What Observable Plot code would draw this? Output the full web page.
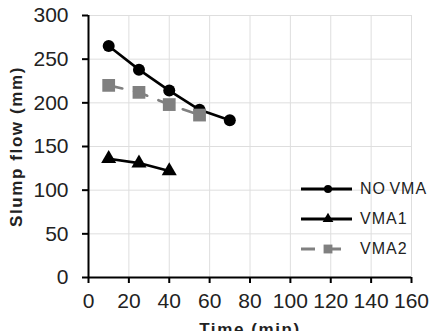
<!DOCTYPE html>
<html>
<head>
<meta charset="utf-8">
<script src="https://cdn.jsdelivr.net/npm/d3@7"></script>
<script src="https://cdn.jsdelivr.net/npm/@observablehq/plot@0.6"></script>
<style>
  body { margin: 0; background: #fff; }
  #wrap { position: relative; width: 431px; height: 331px; overflow: hidden;
          font-family: "Liberation Sans", Arial, sans-serif; color: #222; }
  #wrap svg [aria-label="x-axis label"] text,
  #wrap svg [aria-label="y-axis label"] text { font-weight: bold; font-size: 17px; letter-spacing: 1.6px; }
  #legend { position: absolute; left: 298px; top: 174px; }
  .row { display: flex; align-items: center; height: 30px; }
  .row span { font-size: 16px; letter-spacing: 1px; word-spacing: -2px; margin-left: 6px; color: #222; }
</style>
</head>
<body>
<div id="wrap"></div>
<script>
// Slump flow over time for the three mixes
const times = [10, 25, 40, 55, 70];
const noVma = [265, 238, 214, 192, 180];
const vma1 = [136, 131, 122];
const vma2 = [220, 212, 198, 186];
const seriesNames = ["NO VMA", "VMA1", "VMA2"];
const xTicks = [0, 20, 40, 60, 80, 100, 120, 140, 160];
const yTicks = [0, 50, 100, 150, 200, 250, 300];

const seriesValues = [noVma, vma1, vma2];
const styles = [
  { color: "#000", dash: null, symbol: "circle", r: 6, lr: 4 },
  { color: "#000", dash: null, symbol: "triangle", r: 5.6, lr: 4 },
  { color: "#808080", dash: "14,12", symbol: "square", r: 7.2, lr: 5 }
];

const rows = seriesNames.flatMap((name, i) =>
  seriesValues[i].map((v, j) => ({ series: name, time: times[j], flow: v }))
);

const marks = [
  Plot.gridX(xTicks.slice(1), { stroke: "#dedede", strokeOpacity: 1, strokeWidth: 1 }),
  Plot.gridY(yTicks.slice(1), { stroke: "#dedede", strokeOpacity: 1, strokeWidth: 1 }),
  Plot.axisX(xTicks, {
    tickSize: 6, tickPadding: 10, strokeWidth: 2, stroke: "#000",
    fontSize: 21, fill: "#222",
    label: "Time (min)", labelAnchor: "center", labelArrow: "none", labelOffset: 57
  }),
  Plot.axisY(yTicks, {
    tickSize: 6, tickPadding: 14, strokeWidth: 2, stroke: "#000",
    fontSize: 21, fill: "#222",
    label: "Slump flow (mm)", labelAnchor: "center", labelArrow: "none", labelOffset: 79
  }),
  Plot.ruleX([0], { stroke: "#000", strokeWidth: 2 }),
  Plot.ruleY([0], { stroke: "#000", strokeWidth: 2 })
];

seriesNames.forEach((name, i) => {
  const s = styles[i];
  const data = rows.filter(d => d.series === name);
  marks.push(Plot.line(data, {
    x: "time", y: "flow", stroke: s.color, strokeWidth: 2.6,
    strokeDasharray: s.dash ?? undefined
  }));
  marks.push(Plot.dot(data, {
    x: "time", y: "flow", symbol: s.symbol, r: s.r, fill: s.color, stroke: "none"
  }));
});

const chart = Plot.plot({
  width: 431,
  height: 331,
  marginLeft: 88,
  marginRight: 20,
  marginTop: 15,
  marginBottom: 54,
  style: { fontFamily: "'Liberation Sans', Arial, sans-serif", background: "#fff", overflow: "visible" },
  x: { domain: [0, 160] },
  y: { domain: [0, 300] },
  marks
});

const wrap = document.getElementById("wrap");
wrap.appendChild(chart);

// Legend inside the plot area
const legend = d3.select(wrap).append("div").attr("id", "legend");
seriesNames.forEach((name, i) => {
  const s = styles[i];
  const row = legend.append("div").attr("class", "row");
  const sw = row.append("svg").attr("width", 56).attr("height", 16);
  sw.append("line")
    .attr("x1", 3).attr("x2", 54).attr("y1", 8).attr("y2", 8)
    .attr("stroke", s.color).attr("stroke-width", 3)
    .attr("stroke-dasharray", s.dash);
  const sym = { circle: d3.symbolCircle, triangle: d3.symbolTriangle, square: d3.symbolSquare }[s.symbol];
  sw.append("path")
    .attr("transform", "translate(30,8)")
    .attr("d", d3.symbol(sym, Math.PI * s.lr * s.lr)())
    .attr("fill", s.color);
  row.append("span").text(name);
});
</script>
</body>
</html>
